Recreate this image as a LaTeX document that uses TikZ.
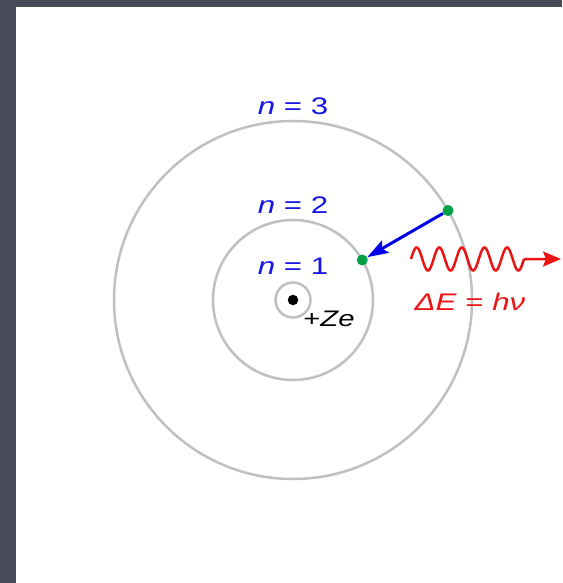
\documentclass[tikz,border=0pt]{standalone}
\usepackage{fontspec}
\setmainfont{Liberation Sans}[FakeStretch=1.3]
\usetikzlibrary{arrows.meta}
\definecolor{slate}{RGB}{72,76,88}
\definecolor{orbitgray}{RGB}{192,192,192}
\definecolor{lblue}{RGB}{20,20,230}
\definecolor{ablue}{RGB}{0,0,230}
\definecolor{egreen}{RGB}{0,160,70}
\definecolor{pred}{RGB}{235,20,20}
\begin{document}
\begin{tikzpicture}[x=1pt,y=-1pt,
  orbit/.style={circle,draw=orbitgray,line width=2.5pt,inner sep=0pt,outer sep=0pt},
  edot/.style={circle,fill=egreen,inner sep=0pt,minimum size=11pt},
  nucdot/.style={circle,fill=black,inner sep=0pt,minimum size=10.5pt},
  ea/.style={draw=ablue,line width=3pt,-{Stealth[length=21pt,width=14pt,inset=4pt]}},
  wave/.style={draw=pred,line width=2.5pt},
  nlab/.style={anchor=base,text=lblue,inner sep=0pt,font=\fontsize{24}{28}\selectfont},
  elab/.style={anchor=base,text=pred,inner sep=0pt,font=\fontsize{24}{28}\selectfont},
  zlab/.style={anchor=base,text=black,inner sep=0pt,font=\fontsize{22.5}{27}\selectfont}]
\useasboundingbox (0,0) rectangle (562,583);
\fill[slate] (0,0) rectangle (562,583);
\fill[white] (15.5,7.5) rectangle (562,583);
% orbits
\node[orbit,minimum size=358pt] (o3) at (293,300) {};
\node[orbit,minimum size=160pt] (o2) at (293,300) {};
\node[orbit,minimum size=35pt] (o1) at (293,300) {};
\node[nucdot] (nuc) at (293,300) {};
% electrons and transition
\node[edot] (d3) at (o3.30) {};
\node[edot] (d2) at (o2.30) {};
\draw[ea] (d3) -- (d2);
% photon
\coordinate (w0) at (411,259);
\coordinate (wtip) at (561,259);
\draw[wave] (w0) plot[domain=0:113,samples=241] ({411+\x},{259-11.5*sin(\x*15.9292)}) coordinate (w1);
\draw[wave,-{Stealth[length=18pt,width=15pt,inset=3pt]}] (w1) -- (wtip);
% labels
\node[nlab] (l3) at (293,114) {\textit{n} = 3};
\node[nlab] (l2) at (293,213) {\textit{n} = 2};
\node[nlab] (l1) at (293,274.5) {\textit{n} = 1};
\node[elab] (de) at (470,310.5) {\textit{ΔE} = \textit{hν}};
\node[zlab] (ze) at (329,326) {+\textit{Ze}};
\end{tikzpicture}
\end{document}
